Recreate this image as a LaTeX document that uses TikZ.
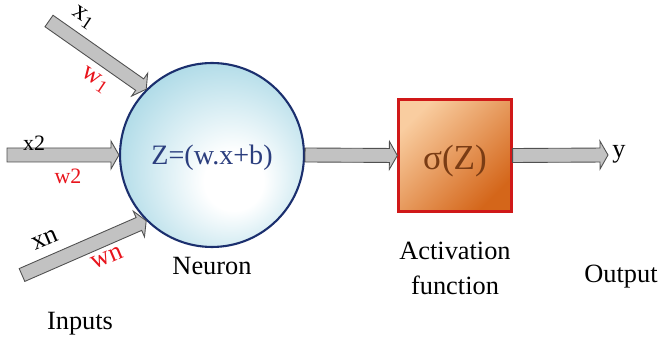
\documentclass[tikz,border=0pt]{standalone}
\usepackage{fontspec}
\setmainfont{Liberation Serif}
\usetikzlibrary{calc,positioning}
\definecolor{NeurNavy}{HTML}{1B2F6E}
\definecolor{NeurText}{HTML}{2B3E7E}
\definecolor{NeurBlue}{HTML}{8CCBDD}
\definecolor{NeurRed}{HTML}{D01818}
\definecolor{NeurLight}{HTML}{F9CDA0}
\definecolor{NeurOrange}{HTML}{D4661A}
\definecolor{NeurBrown}{HTML}{7A3C14}
\definecolor{NeurGray}{HTML}{C2C2C2}
\definecolor{NeurEdge}{HTML}{505050}
\definecolor{NeurWeight}{HTML}{E8141C}
\pgfdeclareradialshading{neuronshade}{\pgfpoint{0.25cm}{-0.3cm}}{%
  color(0bp)=(white); color(8bp)=(white); color(30bp)=(NeurBlue!70);
  color(50bp)=(NeurBlue)}
\newcommand{\fatarrow}[2]{%
  \coordinate (fh) at ($(#2)!0.16cm!(#1)$);
  \draw[fatarr] ($(#1)!0.14cm!90:(#2)$) -- ($(fh)!0.14cm!-90:(#1)$)
    -- ($(fh)!0.28cm!-90:(#1)$) -- (#2) -- ($(fh)!0.28cm!90:(#1)$)
    -- ($(fh)!0.14cm!90:(#1)$) -- ($(#1)!0.14cm!-90:(#2)$) -- cycle;}

\begin{document}
\begin{tikzpicture}[x=0.02cm, y=-0.02cm,
    fatarr/.style={fill=NeurGray, draw=NeurEdge, line width=0.5pt, line join=miter},
    every node/.style={font=\fontsize{15}{19}\selectfont}]
  \useasboundingbox (0,0) rectangle (662,340);
  \node[circle,draw=NeurNavy,line width=1.2pt,shading=neuronshade,
    minimum size=3.68cm,inner sep=0pt] (neuron) at (212,155) {};
  \node[draw=NeurRed,line width=1.6pt,top color=NeurLight,bottom color=NeurOrange,
    shading angle=45,minimum size=2.25cm,inner sep=0pt] (act) at (455,155.5) {};
  \coordinate (in1) at (49,21);
  \coordinate (in2) at (7,155);
  \coordinate (inn) at (22,275);
  \coordinate (yend) at (608,155);
  \fatarrow{in1}{neuron.north west}
  \fatarrow{in2}{neuron.west}
  \fatarrow{inn}{neuron.south west}
  \fatarrow{neuron.east}{act.west}
  \fatarrow{act.east}{yend}
  \node[rotate=-34,inner sep=1pt] (lx1) at (83,18) {x\textsubscript{1}};
  \node[rotate=-34,inner sep=1pt,text=NeurWeight] (lw1) at (95,80) {w\textsubscript{1}};
  \node[font=\fontsize{12.5}{14}\selectfont] (lx2) at (34,143) {x2};
  \node[font=\fontsize{12.5}{14}\selectfont,text=NeurWeight] (lw2) at (68,176) {w2};
  \node[rotate=23,inner sep=1pt] (lxn) at (45,240) {xn};
  \node[rotate=23,inner sep=1pt,text=NeurWeight] (lwn) at (107,258) {wn};
  \node[anchor=base,font=\fontsize{16}{18}\selectfont,text=NeurText] (zsum)
    at (212,165) {Z=(w.x+b)};
  \node[anchor=base,font=\fontsize{20}{22}\selectfont,text=NeurBrown] (sig)
    at (455,170) {σ(Z)};
  \node[anchor=base west,inner sep=0pt] (ylab) at (612,158) {y};
  \node[anchor=base] (neurlab) at (212,275) {Neuron};
  \node[align=center,below=0.45cm of act] (actlab) {Activation\\[1pt]function};
  \node[anchor=base] (outlab) at (621,283) {Output};
  \node[anchor=base] (inlab) at (80,330) {Inputs};
\end{tikzpicture}
\end{document}
